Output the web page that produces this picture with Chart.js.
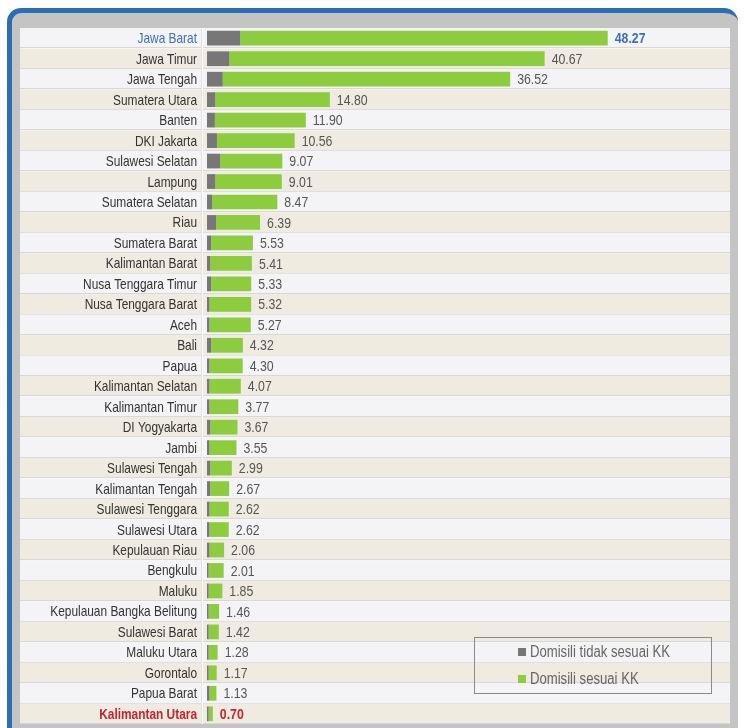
<!DOCTYPE html>
<html>
<head>
<meta charset="utf-8">
<script src="https://cdn.jsdelivr.net/npm/chart.js@4"></script>
<style>
    body { margin: 0; background: #fff; }
    .frame { position: absolute; left: 7px; top: 8px; width: 726px; height: 715px; background: #c4c4c4;
             border-top: 5px solid #2c6db4; border-left: 5px solid #2c6db4; border-radius: 14px 14px 0 0; }
    .chart-box { position: absolute; left: 20px; top: 28px; width: 710px; height: 696px; }
</style>
</head>
<body>
<div class="frame"></div>
<div class="chart-box"><canvas id="myChart"></canvas></div>
<script>
// --- DATA ---
const provinces = [
    'Jawa Barat', 'Jawa Timur', 'Jawa Tengah', 'Sumatera Utara', 'Banten', 'DKI Jakarta',
    'Sulawesi Selatan', 'Lampung', 'Sumatera Selatan', 'Riau', 'Sumatera Barat', 'Kalimantan Barat',
    'Nusa Tenggara Timur', 'Nusa Tenggara Barat', 'Aceh', 'Bali', 'Papua', 'Kalimantan Selatan',
    'Kalimantan Timur', 'DI Yogyakarta', 'Jambi', 'Sulawesi Tengah', 'Kalimantan Tengah',
    'Sulawesi Tenggara', 'Sulawesi Utara', 'Kepulauan Riau', 'Bengkulu', 'Maluku',
    'Kepulauan Bangka Belitung', 'Sulawesi Barat', 'Maluku Utara', 'Gorontalo', 'Papua Barat',
    'Kalimantan Utara'
];
// totals printed next to each bar
const totals = [48.27, 40.67, 36.52, 14.80, 11.90, 10.56, 9.07, 9.01, 8.47, 6.39, 5.53, 5.41,
    5.33, 5.32, 5.27, 4.32, 4.30, 4.07, 3.77, 3.67, 3.55, 2.99, 2.67, 2.62, 2.62, 2.06, 2.01,
    1.85, 1.46, 1.42, 1.28, 1.17, 1.13, 0.70];
// grey part
const tidakSesuai = [4.0, 2.7, 1.9, 1.0, 0.95, 1.2, 1.6, 1.0, 0.6, 1.1, 0.5, 0.4,
    0.5, 0.3, 0.3, 0.5, 0.3, 0.3, 0.3, 0.4, 0.3, 0.4, 0.4, 0.3, 0.3, 0.3, 0.2,
    0.2, 0.2, 0.2, 0.2, 0.2, 0.3, 0.2];
// green part
const sesuai = [44.27, 37.97, 34.62, 13.80, 10.95, 9.36, 7.47, 8.01, 7.87, 5.29, 5.03, 5.01,
    4.83, 5.02, 4.97, 3.82, 4.00, 3.77, 3.47, 3.27, 3.25, 2.59, 2.27, 2.32, 2.32, 1.76, 1.81,
    1.65, 1.26, 1.22, 1.08, 0.97, 0.83, 0.50];

const FONT = "'Liberation Sans', Arial, sans-serif";
const BLUE = '#3d70b5';
const RED = '#c4262e';
const last = provinces.length - 1;

// no narrow font installed, so squeeze Liberation Sans horizontally
function narrowText(ctx, text, x, y, align, squeeze) {
    ctx.save();
    ctx.translate(x, y);
    ctx.scale(squeeze, 1);
    ctx.textAlign = align;
    ctx.textBaseline = 'middle';
    ctx.fillText(text, 0, 0);
    ctx.restore();
}

// stripes behind rows
const rowsPlugin = {
    id: 'rows',
    beforeDraw(chart) {
        const { ctx } = chart;
        const y = chart.scales.y;
        const half = (y.getPixelForValue(1) - y.getPixelForValue(0)) / 2;
        ctx.save();
        provinces.forEach((p, i) => {
            const c = y.getPixelForValue(i);
            ctx.fillStyle = i % 2 === 0 ? '#f4f4f6' : '#efebe0';
            ctx.fillRect(0, c - half, chart.width, half * 2);
            ctx.fillStyle = '#d8d8d8';
            ctx.fillRect(0, Math.round(c + half) - 1, chart.width, 1);
            ctx.fillStyle = '#ffffff';
            ctx.fillRect(0, Math.round(c + half), chart.width, 1);
        });
        ctx.fillStyle = '#e2e2e2';
        ctx.fillRect(181, 0, 1, chart.height);
        ctx.fillStyle = '#fbfbfb';
        ctx.fillRect(182, 0, 1, chart.height);
        ctx.restore();
    }
};

// category names, and numbers after the bars
const textPlugin = {
    id: 'texts',
    afterDatasetsDraw(chart) {
        const { ctx } = chart;
        const y = chart.scales.y;
        const meta = chart.getDatasetMeta(1);
        ctx.save();
        chart.data.labels.forEach((lab, i) => {
            const c = y.getPixelForValue(i) + 1;
            ctx.fillStyle = i === 0 ? BLUE : (i === last ? RED : '#333333');
            ctx.font = (i === last ? 'bold ' : '') + '14.5px ' + FONT;
            narrowText(ctx, lab, y.right - 10, c, 'right', 0.82);
        });
        meta.data.forEach((bar, i) => {
            ctx.fillStyle = i === 0 ? BLUE : (i === last ? RED : '#555555');
            ctx.font = (i === 0 || i === last ? 'bold ' : '') + '15px ' + FONT;
            narrowText(ctx, totals[i].toFixed(2), bar.x + 7, bar.y + 1, 'left', 0.82);
        });
        ctx.restore();
    }
};

// legend box in the lower right corner
const legendPlugin = {
    id: 'boxLegend',
    afterDraw(chart) {
        const { ctx } = chart;
        ctx.save();
        ctx.strokeStyle = '#8a8a8a';
        ctx.lineWidth = 1;
        ctx.strokeRect(454.5, 609.5, 237, 56);
        ctx.font = '16px ' + FONT;
        chart.data.datasets.forEach((ds, i) => {
            const yy = 624 + i * 27;
            ctx.fillStyle = ds.backgroundColor;
            ctx.fillRect(498, yy - 4, 8, 8);
            ctx.fillStyle = '#666666';
            narrowText(ctx, ds.label, 510, yy + 1, 'left', 0.82);
        });
        ctx.restore();
    }
};

const ctx = document.getElementById('myChart').getContext('2d');
new Chart(ctx, {
    type: 'bar',
    data: {
        labels: provinces,
        datasets: [
            { label: 'Domisili tidak sesuai KK', data: tidakSesuai, backgroundColor: '#777777' },
            { label: 'Domisili sesuai KK', data: sesuai, backgroundColor: '#8dcc3e' }
        ]
    },
    options: {
        indexAxis: 'y',
        responsive: true,
        maintainAspectRatio: false,
        animation: false,
        layout: { padding: 0 },
        datasets: { bar: { barPercentage: 0.72, categoryPercentage: 1 } },
        plugins: { legend: { display: false }, tooltip: { enabled: false } },
        scales: {
            x: { stacked: true, min: 0, max: 63, display: false },
            y: {
                stacked: true,
                grid: { display: false, drawTicks: false },
                border: { display: false },
                ticks: { display: false, autoSkip: false },
                afterFit(scale) {
                    scale.width = 187;
                    scale.paddingTop = 0;
                    scale.paddingBottom = 0;
                }
            }
        }
    },
    plugins: [rowsPlugin, textPlugin, legendPlugin]
});
</script>
</body>
</html>
